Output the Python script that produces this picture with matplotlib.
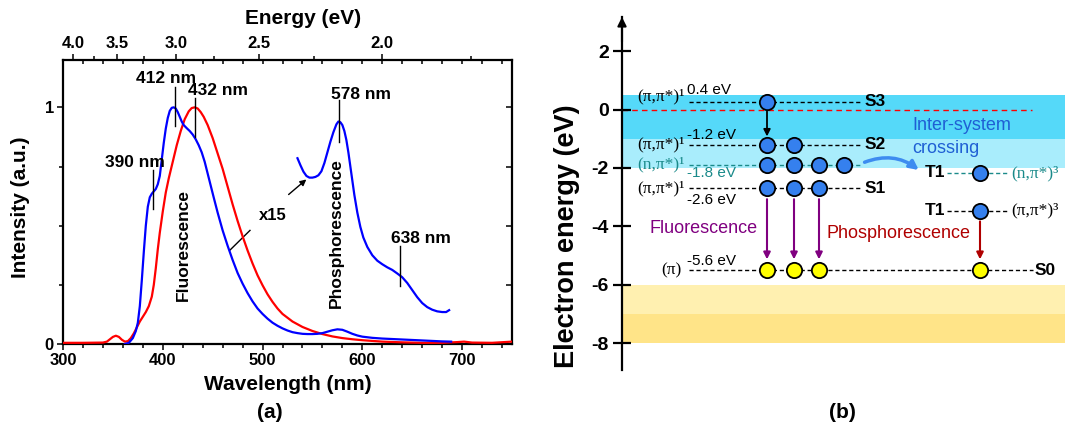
import numpy as np
import matplotlib
matplotlib.use("Agg")
import matplotlib.pyplot as plt
from matplotlib.patches import FancyArrowPatch
from matplotlib.ticker import MultipleLocator, FixedLocator, NullFormatter

plt.rcParams["font.family"] = ["Liberation Sans", "DejaVu Sans"]
plt.rcParams["axes.unicode_minus"] = False

# ---------------------------------------------------------------------------
# Data, panel (a): emission spectra
# ---------------------------------------------------------------------------
blue_wl = [362, 366, 370, 373, 375, 377, 379, 381, 383, 385, 387, 389, 391, 393, 395,
           397, 399, 401, 403, 405, 407, 409, 411, 413, 415, 417, 419, 421, 424, 427,
           430, 433, 436, 439, 442, 445, 448, 451, 455, 460, 465, 470, 475, 480, 485,
           490, 495, 500, 505, 510, 515, 520, 525, 530, 535, 540, 545, 550, 555, 560,
           565, 570, 575, 580, 585, 590, 595, 600, 610, 620, 635, 650, 665, 680, 689]
blue_int = [0.0, 0.005, 0.025, 0.055, 0.09, 0.16, 0.27, 0.39, 0.5, 0.58, 0.62, 0.635,
            0.645, 0.655, 0.675, 0.71, 0.78, 0.85, 0.91, 0.955, 0.985, 0.998, 1.0, 0.995,
            0.98, 0.96, 0.94, 0.925, 0.912, 0.9, 0.885, 0.865, 0.84, 0.81, 0.77, 0.72,
            0.67, 0.62, 0.555, 0.48, 0.415, 0.355, 0.3, 0.255, 0.215, 0.18, 0.15, 0.127,
            0.107, 0.09, 0.077, 0.066, 0.057, 0.05, 0.046, 0.043, 0.042, 0.042, 0.043,
            0.046, 0.052, 0.058, 0.062, 0.06, 0.052, 0.043, 0.036, 0.031, 0.026, 0.023,
            0.02, 0.017, 0.014, 0.011, 0.01]

red_wl = [300, 320, 340, 344, 347, 350, 353, 356, 359, 362, 365, 368, 371, 374, 377,
          380, 383, 386, 389, 391, 393, 395, 397, 400, 403, 406, 410, 414, 418, 422,
          426, 429, 432, 435, 438, 441, 445, 450, 455, 460, 465, 470, 475, 480, 485,
          490, 495, 500, 505, 510, 515, 520, 530, 540, 550, 560, 570, 580, 590, 600,
          620, 640, 660, 680, 695, 702, 710, 730, 750]
red_int = [0.005, 0.005, 0.006, 0.01, 0.02, 0.03, 0.035, 0.03, 0.018, 0.01, 0.012, 0.025,
           0.045, 0.07, 0.095, 0.115, 0.135, 0.16, 0.2, 0.25, 0.32, 0.4, 0.47, 0.56, 0.64,
           0.7, 0.77, 0.84, 0.9, 0.95, 0.983, 0.997, 1.0, 0.995, 0.98, 0.96, 0.925, 0.87,
           0.805, 0.74, 0.665, 0.59, 0.52, 0.455, 0.395, 0.34, 0.29, 0.248, 0.21, 0.178,
           0.15, 0.127, 0.095, 0.072, 0.055, 0.042, 0.032, 0.025, 0.02, 0.016, 0.01,
           0.007, 0.005, 0.005, 0.008, 0.01, 0.006, 0.005, 0.01]

# blue spectrum magnified x15
x15_wl = [535, 538, 541, 544, 547, 550, 553, 556, 559, 562, 565, 568, 571, 574, 576,
          578, 580, 582, 584, 586, 588, 590, 592, 595, 598, 601, 605, 610, 615, 620,
          625, 630, 635, 640, 645, 650, 655, 660, 665, 670, 675, 680, 684, 687]
x15_int = [0.785, 0.755, 0.728, 0.71, 0.703, 0.703, 0.706, 0.713, 0.73, 0.765, 0.81,
           0.855, 0.895, 0.928, 0.94, 0.937, 0.925, 0.9, 0.862, 0.81, 0.75, 0.69, 0.63,
           0.555, 0.495, 0.45, 0.41, 0.375, 0.352, 0.337, 0.324, 0.313, 0.298, 0.282,
           0.258, 0.228, 0.198, 0.173, 0.156, 0.145, 0.138, 0.135, 0.135, 0.143]

peak_labels = ["390 nm", "412 nm", "432 nm", "578 nm", "638 nm"]
peak_wl = [390, 412, 432, 577, 638]
peak_line_lo = [0.57, 0.92, 0.875, 0.855, 0.245]
peak_line_hi = [0.735, 1.085, 1.04, 1.03, 0.415]
peak_text_x = [372, 403, 455, 599, 659]
peak_text_y = [0.765, 1.12, 1.07, 1.055, 0.447]

energy_major = [4.0, 3.5, 3.0, 2.5, 2.0]
energy_minor = [3.75, 3.25, 2.75, 2.25, 1.75]

# ---------------------------------------------------------------------------
# Data, panel (b): energy levels (eV)
# ---------------------------------------------------------------------------
level_names = ["S3", "S2", "n1", "S1"]
level_e = [0.26, -1.2, -1.89, -2.7]
level_count = [1, 2, 4, 3]
level_state = [r"(π,π*)¹", r"(π,π*)¹", r"(n,π*)¹", r"(π,π*)¹"]
level_ev_text = ["0.4 eV", "-1.2 eV", "-1.8 eV", "-2.6 eV"]
level_ev_y = [0.67, -0.88, -2.17, -3.1]
t1n_e = -2.17
t1p_e = -3.46
s0_e = -5.5
band_edges = [(0.5, -1.0, "#55d9f9"), (-1.0, -2.0, "#a9edfc"),
              (-6.0, -7.0, "#fff0b0"), (-7.0, -8.0, "#ffe488")]

TEAL = "#1a8a8a"
CIRC_BLUE = "#3580ee"

fig = plt.figure(figsize=(10.65, 4.30), dpi=100)
W, H = 1065.0, 430.0

# ---------------------------------------------------------------------------
# Panel (a)
# ---------------------------------------------------------------------------
ax = fig.add_axes([63 / W, 1 - 344 / H, (512 - 63) / W, (344 - 60) / H])
ax.plot(red_wl, red_int, color="#ff0000", lw=1.6, zorder=3)
ax.plot(blue_wl, blue_int, color="#0000ff", lw=1.6, zorder=4)
ax.plot(x15_wl, x15_int, color="#0000ff", lw=1.6, zorder=4)
ax.set_xlim(300, 750)
ax.set_ylim(0, 1.2)

ax.xaxis.set_major_locator(MultipleLocator(100))
ax.xaxis.set_minor_locator(MultipleLocator(20))
ax.yaxis.set_major_locator(FixedLocator([0, 1]))
ax.yaxis.set_minor_locator(FixedLocator([0.25, 0.5, 0.75]))
ax.tick_params(axis="both", which="major", direction="out", length=4.5, width=1.1,
               labelsize=12, pad=2)
ax.tick_params(axis="both", which="minor", direction="out", length=3, width=1.1)
for lab in ax.get_xticklabels() + ax.get_yticklabels():
    lab.set_fontweight("bold")
for sp in ax.spines.values():
    sp.set_linewidth(1.6)
ax.set_xlabel("Wavelength (nm)", fontsize=15, fontweight="bold")
ax.set_ylabel("Intensity (a.u.)", fontsize=15, fontweight="bold")
ax.xaxis.set_label_coords(0.5, -(375 - 344) / 284)
ax.yaxis.set_label_coords(-(63 - 30) / 449, 0.48)

# mirrored inward ticks on top / right
sec_top = ax.secondary_xaxis("top")
sec_top.xaxis.set_major_locator(MultipleLocator(100))
sec_top.xaxis.set_minor_locator(MultipleLocator(20))
sec_top.tick_params(which="both", direction="in", length=3, width=1.1, labeltop=False)
sec_top.spines["top"].set_visible(False)
sec_right = ax.secondary_yaxis("right")
sec_right.yaxis.set_major_locator(FixedLocator([0.25, 0.5, 0.75, 1.0]))
sec_right.yaxis.set_minor_locator(FixedLocator([]))
sec_right.tick_params(which="both", direction="in", length=4.5, width=1.1, labelright=False)
sec_right.spines["right"].set_visible(False)

# energy axis
axe = ax.twiny()
axe.set_xlim(ax.get_xlim())
axe.set_xticks([1240.0 / e for e in energy_major])
axe.set_xticklabels([f"{e:.1f}" for e in energy_major], fontsize=12, fontweight="bold")
axe.set_xticks([1240.0 / e for e in energy_minor], minor=True)
axe.xaxis.set_minor_formatter(NullFormatter())
axe.tick_params(which="major", direction="out", length=4.5, width=1.1, pad=2)
axe.tick_params(which="minor", direction="out", length=3, width=1.1)
for sp in axe.spines.values():
    sp.set_visible(False)
fig.text(303 / W, 1 - 19 / H, "Energy (eV)", fontsize=15, fontweight="bold",
         ha="center", va="center")

# peak markers
for lab, wl, lo, hi, tx, ty in zip(peak_labels, peak_wl, peak_line_lo, peak_line_hi,
                                   peak_text_x, peak_text_y):
    ax.plot([wl, wl], [lo, hi], color="black", lw=1.0, zorder=5)
    ax.text(tx, ty, lab, fontsize=12.5, fontweight="bold", ha="center", va="center", zorder=6)

ax.plot([487.4, 467.4], [0.48, 0.397], color="black", lw=1.0)
ax.text(510, 0.545, "x15", fontsize=12, fontweight="bold", ha="center", va="center")
ax.annotate("", xy=(546, 0.703), xytext=(524, 0.624),
            arrowprops=dict(arrowstyle="-|>", color="black", lw=1.0, mutation_scale=9))
ax.text(420.5, 0.42, "Fluorescence", rotation=90, fontsize=12.5, fontweight="bold",
        ha="center", va="center")
ax.text(574, 0.47, "Phosphorescence", rotation=90, fontsize=12.5, fontweight="bold",
        ha="center", va="center")
fig.text(270 / W, 1 - 412 / H, "(a)", fontsize=15, fontweight="bold", ha="center", va="center")

# ---------------------------------------------------------------------------
# Panel (b)
# ---------------------------------------------------------------------------
X_AX = 622
ax2 = fig.add_axes([X_AX / W, 1 - 370 / H, (W - X_AX) / W, (370 - 17) / H])
ax2.set_xlim(X_AX, W)
ax2.set_ylim(-8.92, 3.17)
for side in ("top", "right", "bottom"):
    ax2.spines[side].set_visible(False)
ax2.spines["left"].set_linewidth(1.6)
ax2.set_xticks([])
ax2.set_yticks([2, 0, -2, -4, -6, -8])
ax2.set_yticklabels(["2", "0", "-2", "-4", "-6", "-8"], fontsize=14, fontweight="bold")
ax2.tick_params(axis="y", direction="inout", length=13, width=1.6, pad=3)
ax2.annotate("", xy=(0, 1.0), xytext=(0, 0.93), xycoords="axes fraction",
             arrowprops=dict(arrowstyle="-|>", color="black", lw=1.5, mutation_scale=13,
                             shrinkA=0, shrinkB=0))
fig.text(567 / W, 1 - 236 / H, "Electron energy (eV)", rotation=90, fontsize=19.5,
         fontweight="bold", ha="center", va="center")

for top, bot, col in band_edges:
    ax2.axhspan(bot, top, color=col, lw=0, zorder=0)
ax2.plot([X_AX, 1032], [0, 0], color="red", lw=1.0, ls=(0, (4, 3)), zorder=1)

cols = [767, 794, 819, 844]
X_T1 = 980
serif = ["Liberation Serif", "DejaVu Serif"]
dash = (0, (3, 2))
circ = dict(marker="o", markersize=11, mec="black", mew=1.3, ls="none", zorder=5)

for name, e, n, state, evt, evy in zip(level_names, level_e, level_count, level_state,
                                      level_ev_text, level_ev_y):
    c = TEAL if name == "n1" else "black"
    x_end = 862 if name == "n1" else 860
    ax2.plot([689, x_end], [e, e], color=c, lw=1.0, ls=dash, zorder=2)
    ax2.plot(cols[:n], [e] * n, mfc=CIRC_BLUE, **circ)
    sy = e + 0.2 if name == "S3" else e
    ax2.text(637, sy, state, family=serif, fontsize=12.5, color=c, ha="left", va="center")
    ax2.text(687, evy, evt, fontsize=11, color=c, ha="left", va="center")
    if name != "n1":
        ax2.text(865, e, name, fontsize=12.5, fontweight="bold", ha="left", va="center")

# triplets
ax2.plot([947, 1008], [t1n_e, t1n_e], color=TEAL, lw=1.0, ls=dash, zorder=2)
ax2.plot([947, 1008], [t1p_e, t1p_e], color="black", lw=1.0, ls=dash, zorder=2)
ax2.plot([X_T1, X_T1], [t1n_e, t1p_e], mfc=CIRC_BLUE, **circ)
ax2.text(945, t1n_e, "T1", fontsize=12.5, fontweight="bold", ha="right", va="center")
ax2.text(945, t1p_e, "T1", fontsize=12.5, fontweight="bold", ha="right", va="center")
ax2.text(1011, t1n_e, r"(n,π*)³", family=serif, fontsize=12.5, color=TEAL,
         ha="left", va="center")
ax2.text(1011, t1p_e, r"(π,π*)³", family=serif, fontsize=12.5, color="black",
         ha="left", va="center")

# ground state
ax2.plot([689, 1033], [s0_e, s0_e], color="black", lw=1.0, ls=dash, zorder=2)
ax2.plot(cols[:3] + [X_T1], [s0_e] * 4, mfc="#ffff00", **circ)
ax2.text(1035, s0_e, "S0", fontsize=12.5, fontweight="bold", ha="left", va="center")
ax2.text(682, s0_e, "(π)", family=serif, fontsize=12.5, ha="right", va="center")
ax2.text(687, -5.2, "-5.6 eV", fontsize=11, ha="left", va="center")

# transitions
ax2.annotate("", xy=(cols[0], level_e[1] + 0.28), xytext=(cols[0], level_e[0] - 0.32),
             arrowprops=dict(arrowstyle="-|>", color="black", lw=1.3, mutation_scale=10,
                             shrinkA=0, shrinkB=0))
for x in cols[:3]:
    ax2.annotate("", xy=(x, s0_e + 0.37), xytext=(x, level_e[3] - 0.37),
                 arrowprops=dict(arrowstyle="-|>", color="#800080", lw=1.5,
                                 mutation_scale=10, shrinkA=0, shrinkB=0))
ax2.annotate("", xy=(X_T1, s0_e + 0.37), xytext=(X_T1, t1p_e - 0.37),
             arrowprops=dict(arrowstyle="-|>", color="#b00000", lw=1.5,
                             mutation_scale=10, shrinkA=0, shrinkB=0))
ax2.add_patch(FancyArrowPatch((862, -1.84), (921, -2.13),
                              connectionstyle="arc3,rad=-0.3", arrowstyle="-|>",
                              mutation_scale=13, color="#3d8cf0", lw=2.5, zorder=4))

ax2.text(650, -4.06, "Fluorescence", fontsize=13, color="#800080", ha="left", va="center")
ax2.text(827, -4.23, "Phosphorescence", fontsize=13, color="#b00000", ha="left", va="center")
ax2.text(912, -0.53, "Inter-system", fontsize=13, color="#1f5fd4", ha="left", va="center")
ax2.text(912, -1.32, "crossing", fontsize=13, color="#1f5fd4", ha="left", va="center")
fig.text(842 / W, 1 - 412 / H, "(b)", fontsize=15, fontweight="bold", ha="center", va="center")

fig.savefig("out.png", dpi=100)
